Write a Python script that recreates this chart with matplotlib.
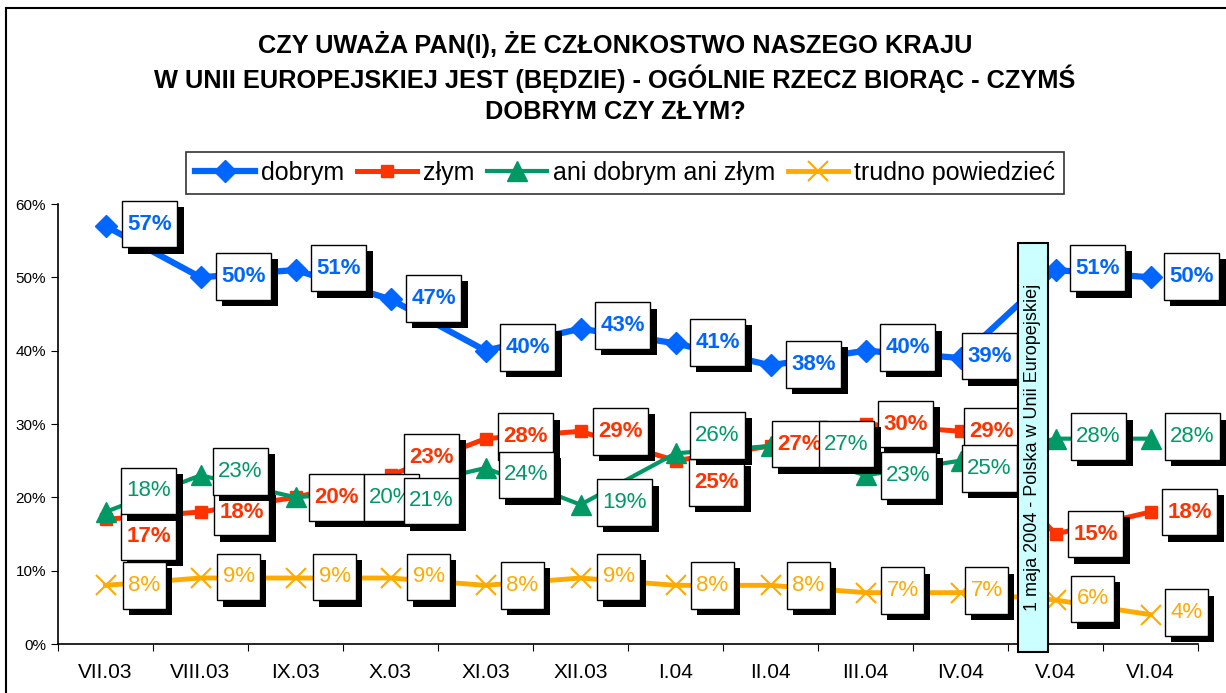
import matplotlib
matplotlib.use("Agg")
import matplotlib.pyplot as plt
import matplotlib.patheffects as pe
from matplotlib.path import Path
from matplotlib.patches import Rectangle

plt.rcParams['font.family'] = ['Liberation Sans', 'DejaVu Sans']

months = ['VII.03', 'VIII.03', 'IX.03', 'X.03', 'XI.03', 'XII.03',
          'I.04', 'II.04', 'III.04', 'IV.04', 'V.04', 'VI.04']
dobrym = [57, 50, 51, 47, 40, 43, 41, 38, 40, 39, 51, 50]
zlym = [17, 18, 20, 23, 28, 29, 25, 27, 30, 29, 15, 18]
ani = [18, 23, 20, 21, 24, 19, 26, 27, 23, 25, 28, 28]
trudno = [8, 9, 9, 9, 8, 9, 8, 8, 7, 7, 6, 4]
yticks = [0, 10, 20, 30, 40, 50, 60]

# label box offsets (pixels, from the point)
dobrym_off = [(44, 2), (43, 1), (43, 2), (43, 1), (42, 3), (42, 3),
              (42, 1), (43, 1), (42, 3), (29, 2), (42, 2), (41, 1)]
zlym_off = [(43, -17), (41, 0), (41, 0), (41, 18), (40, 2), (40, 0),
            (41, -22), (29, 2), (40, 0), (31, 0), (40, 0), (39, 0)]
ani_off = [(43, 21), (40, 4), (96, 0), (41, -11), (41, -7), (44, 2),
           (42, 18), (76, 2), (43, 0), (29, -8), (43, 2), (42, 2)]
trudno_off = [(39, 0), (38, 1), (39, 1), (38, 1), (37, 0), (38, 1),
              (37, 0), (38, 0), (37, 2), (26, 2), (37, 1), (36, 2)]

blue = '#0066FF'
red = '#FF3300'
green = '#009966'
orange = '#FFAA00'

fig = plt.figure(figsize=(12.26, 6.93), dpi=100)
fig.patches.append(Rectangle((6 / 1226, -0.1), 1.2, 1 - 8 / 693 + 0.1,
                             transform=fig.transFigure, fill=False,
                             edgecolor='black', linewidth=1.5))
ax = fig.add_axes([58 / 1226, 49 / 693, 1140 / 1226, 440 / 693])

x = range(len(months))
ax.plot(x, dobrym, color=blue, lw=4.5, marker='D', ms=11, label='dobrym', zorder=3)
ax.plot(x, zlym, color=red, lw=3.6, marker='s', ms=8.5, label='złym', zorder=3)
ax.plot(x, ani, color=green, lw=3, marker='^', ms=15, label='ani dobrym ani złym', zorder=3)
ax.plot(x, trudno, color=orange, lw=3.5, marker='x', ms=15, mew=1.5,
        label='trudno powiedzieć', zorder=3)


def label_box(x0, y0, width, height, mutation_size):
    hp = 0.25 * mutation_size
    vp = 0.58 * mutation_size
    return Path([(x0 - hp, y0 - vp), (x0 + width + hp, y0 - vp),
                 (x0 + width + hp, y0 + height + vp), (x0 - hp, y0 + height + vp),
                 (x0 - hp, y0 - vp)], closed=True)


def add_labels(values, offsets, color, weight, z):
    for i, v in enumerate(values):
        t = ax.annotate(f'{v}%', (i, v), xytext=offsets[i], textcoords='offset pixels',
                        ha='center', va='center', fontsize=16, color=color,
                        fontweight=weight, zorder=z, annotation_clip=False,
                        bbox=dict(boxstyle=label_box, facecolor='white',
                                  edgecolor='black', linewidth=1))
        t.get_bbox_patch().set_path_effects(
            [pe.SimplePatchShadow(offset=(4.5, -4.5), shadow_rgbFace='black', alpha=1.0),
             pe.Normal()])


add_labels(dobrym, dobrym_off, blue, 'bold', 5)
add_labels(zlym, zlym_off, red, 'bold', 6)
add_labels(ani, ani_off, green, 'normal', 7)
add_labels(trudno, trudno_off, orange, 'normal', 8)

# accession marker
ax.add_patch(Rectangle((9.605, -1.1), 0.315, 55.8, facecolor='#CCFFFF',
                       edgecolor='black', linewidth=1.5, zorder=10, clip_on=False))
ax.text(9.7625, 26.8, '1 maja 2004 - Polska w Unii Europejskiej', rotation=90,
        ha='center', va='center', fontsize=13, zorder=11)

ax.set_xlim(-0.5, len(months) - 0.5)
ax.set_ylim(0, 60)
ax.set_xticks([i + 0.5 for i in range(-1, len(months))], minor=False)
ax.set_xticklabels([])
ax.set_xticks(list(x), minor=True)
ax.set_xticklabels(months, minor=True, fontsize=15)
ax.tick_params(axis='x', which='minor', length=0, pad=14)
ax.tick_params(axis='x', which='major', length=5, direction='out')
ax.set_yticks(yticks)
ax.set_yticklabels([f'{t}%' for t in yticks], fontsize=11)
ax.tick_params(axis='y', length=5, direction='out')
for s in ['top', 'right']:
    ax.spines[s].set_visible(False)
for s in ['left', 'bottom']:
    ax.spines[s].set_linewidth(1.2)

title = ['CZY UWAŻA PAN(I), ŻE CZŁONKOSTWO NASZEGO KRAJU',
         'W UNII EUROPEJSKIEJ JEST (BĘDZIE) - OGÓLNIE RZECZ BIORĄC - CZYMŚ',
         'DOBRYM CZY ZŁYM?']
for line, yp in zip(title, [45, 79, 112]):
    fig.text(615 / 1226, 1 - yp / 693, line, ha='center', va='center',
             fontsize=18.3, fontweight='bold')

leg = fig.legend(loc='center', bbox_to_anchor=(625 / 1226, 1 - 173 / 693), ncol=4,
                 frameon=True, fancybox=False, edgecolor='black',
                 handlelength=2.4, columnspacing=0.5, handletextpad=0.25,
                 borderpad=0.35, prop={'size': 18})
leg.get_frame().set_linewidth(1.2)

fig.savefig('out.png', dpi=100)
